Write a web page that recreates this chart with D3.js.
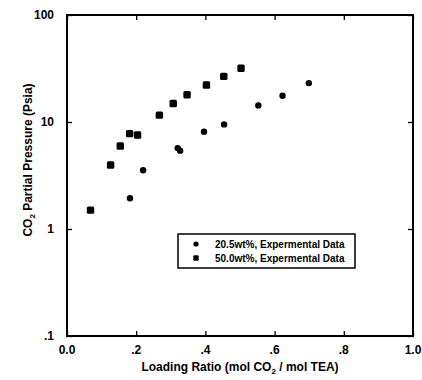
<!DOCTYPE html>
<html>
<head>
<meta charset="utf-8">
<script src="https://cdn.jsdelivr.net/npm/d3@7"></script>
<style>
  body { margin: 0; background: #fff; }
  text { font-family: "Liberation Sans", Arial, sans-serif; font-weight: bold; fill: #000; }
  .tickLabel { font-size: 12px; }
  .axisLabel { font-size: 12px; }
  .legendText { font-size: 10px; }
</style>
</head>
<body>
<div id="chart"></div>
<script>
// Data
var loading205 = [0.182, 0.22, 0.32, 0.327, 0.396, 0.454, 0.553, 0.623, 0.699];
var pressure205 = [1.94, 3.54, 5.7, 5.4, 8.1, 9.5, 14.3, 17.6, 23.1];
var loading500 = [0.068, 0.126, 0.154, 0.181, 0.204, 0.267, 0.307, 0.347, 0.403, 0.453, 0.503];
var pressure500 = [1.5, 3.96, 5.97, 7.78, 7.56, 11.6, 14.9, 18.0, 22.2, 26.7, 31.8];
var xTicks = [0, 0.2, 0.4, 0.6, 0.8, 1.0];
var xTickLabels = ["0.0", ".2", ".4", ".6", ".8", "1.0"];
var yTicks = [0.1, 1, 10, 100];
var yTickLabels = [".1", "1", "10", "100"];
var seriesNames = ["20.5wt%, Expermental Data", "50.0wt%, Expermental Data"];

// Spacing
var margin = {top: 15, right: 9, bottom: 44, left: 67};
var width = 422 - margin.left - margin.right;
var height = 380 - margin.top - margin.bottom;

var svg = d3.select("#chart")
  .append("svg")
  .attr("width", 422)
  .attr("height", 380);

var g = svg.append("g")
  .attr("transform", "translate(" + margin.left + "," + margin.top + ")");

// Scales
var xScale = d3.scaleLinear().domain([0, 1]).range([0, width]);
var yScale = d3.scaleLog().domain([0.1, 100]).range([height, 0]);

// Axes with inward ticks, labels drawn separately
g.append("g")
  .attr("transform", "translate(0," + height + ")")
  .call(d3.axisBottom(xScale).tickValues(xTicks).tickSizeInner(-5).tickSizeOuter(0).tickFormat(""));
g.append("g")
  .call(d3.axisTop(xScale).tickValues(xTicks).tickSizeInner(-5).tickSizeOuter(0).tickFormat(""));
g.append("g")
  .call(d3.axisLeft(yScale).tickValues(yTicks).tickSizeInner(-5).tickSizeOuter(0).tickFormat(""));
g.append("g")
  .attr("transform", "translate(" + width + ",0)")
  .call(d3.axisRight(yScale).tickValues(yTicks).tickSizeInner(-5).tickSizeOuter(0).tickFormat(""));
g.selectAll(".domain").remove();
g.selectAll(".tick line").attr("stroke", "#000").attr("stroke-width", 1.3);

// Frame
g.append("rect")
  .attr("width", width)
  .attr("height", height)
  .attr("fill", "none")
  .attr("stroke", "#000")
  .attr("stroke-width", 2);

// Tick labels
g.selectAll(".xLab")
  .data(xTicks)
  .enter()
  .append("text")
  .attr("class", "tickLabel")
  .attr("x", function(d) { return xScale(d); })
  .attr("y", height + 18)
  .style("text-anchor", "middle")
  .text(function(d, i) { return xTickLabels[i]; });

g.selectAll(".yLab")
  .data(yTicks)
  .enter()
  .append("text")
  .attr("class", "tickLabel")
  .attr("x", -13)
  .attr("y", function(d) { return yScale(d) + 4; })
  .style("text-anchor", "end")
  .text(function(d, i) { return yTickLabels[i]; });

// Points
var pts205 = loading205.map(function(d, i) { return {x: d, y: pressure205[i]}; });
var pts500 = loading500.map(function(d, i) { return {x: d, y: pressure500[i]}; });

g.selectAll(".circ")
  .data(pts205)
  .enter()
  .append("circle")
  .attr("cx", function(d) { return xScale(d.x); })
  .attr("cy", function(d) { return yScale(d.y); })
  .attr("r", 3.2)
  .attr("fill", "#000");

g.selectAll(".sq")
  .data(pts500)
  .enter()
  .append("rect")
  .attr("x", function(d) { return xScale(d.x) - 3.7; })
  .attr("y", function(d) { return yScale(d.y) - 3.7; })
  .attr("width", 7.4)
  .attr("height", 7.4)
  .attr("rx", 1.5)
  .attr("fill", "#000");

// Legend
var lx = 178 - margin.left, ly = 234 - margin.top;
g.append("rect")
  .attr("x", lx)
  .attr("y", ly)
  .attr("width", 177)
  .attr("height", 34)
  .attr("fill", "#fff")
  .attr("stroke", "#000")
  .attr("stroke-width", 1.5);

g.append("circle")
  .attr("cx", lx + 18)
  .attr("cy", ly + 10)
  .attr("r", 2.6)
  .attr("fill", "#000");
g.append("rect")
  .attr("x", lx + 15.3)
  .attr("y", ly + 21.3)
  .attr("width", 5.4)
  .attr("height", 5.4)
  .attr("rx", 1.2)
  .attr("fill", "#000");

seriesNames.forEach(function(name, i) {
  g.append("text")
    .attr("class", "legendText")
    .attr("x", lx + 37)
    .attr("y", ly + 13.5 + i * 14)
    .text(name);
});

// Axis titles
var xTitle = svg.append("text")
  .attr("class", "axisLabel")
  .attr("x", 240)
  .attr("y", 371)
  .style("text-anchor", "middle");
xTitle.append("tspan").text("Loading Ratio (mol CO");
xTitle.append("tspan").attr("dy", 3).style("font-size", "8px").text("2");
xTitle.append("tspan").attr("dy", -3).text(" / mol TEA)");

var yTitle = svg.append("text")
  .attr("class", "axisLabel")
  .attr("transform", "translate(32,160) rotate(-90)")
  .style("text-anchor", "middle");
yTitle.append("tspan").text("CO");
yTitle.append("tspan").attr("dy", 3).style("font-size", "8px").text("2");
yTitle.append("tspan").attr("dy", -3).text(" Partial Pressure (Psia)");
</script>
</body>
</html>
